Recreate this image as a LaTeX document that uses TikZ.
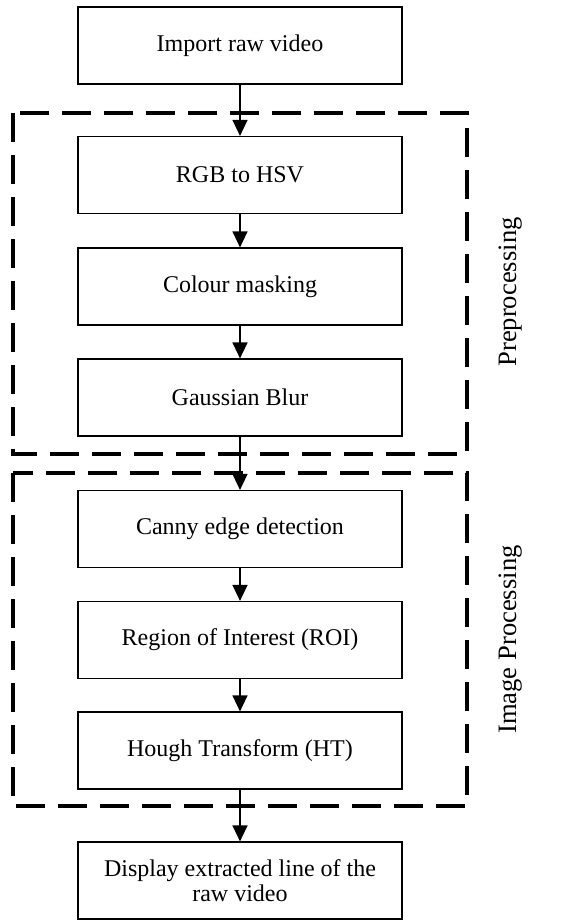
\documentclass[tikz,border=0pt]{standalone}
\usepackage{fontspec}
\setmainfont{Liberation Serif}
\usetikzlibrary{arrows.meta}

\begin{document}
\begin{tikzpicture}[x=0.5pt,y=-0.5pt,
  stage/.style={draw,line width=0.6pt,minimum width=162pt,minimum height=38.5pt,
    inner sep=0pt,align=center,font=\fontsize{12}{12.5}\selectfont},
  group/.style={line width=2pt,dash pattern=on 14.5pt off 6.5pt},
  flow/.style={line width=0.7pt,-{Triangle[width=7.5pt,length=8pt]}},
  tag/.style={rotate=90,font=\fontsize{13.3}{15}\selectfont}]
\useasboundingbox (0,0) rectangle (579,922);

\draw[group] (13,113) rectangle (467,454);
\draw[group] (13,473) rectangle (467,806);

\node[stage] (import) at (240,45.5) {Import raw video};
\node[stage] (hsv) at (240,175) {RGB to HSV};
\node[stage] (mask) at (240,286.5) {Colour masking};
\node[stage] (blur) at (240,397.5) {Gaussian Blur};
\node[stage] (canny) at (240,529) {Canny edge detection};
\node[stage] (roi) at (240,640) {Region of Interest (ROI)};
\node[stage] (hough) at (240,750.5) {Hough Transform (HT)};
\node[stage] (show) at (240,880.5) {Display extracted line of the\\raw video};

\draw[flow] (import) -- (hsv);
\draw[flow] (hsv) -- (mask);
\draw[flow] (mask) -- (blur);
\draw[flow] (blur) -- (canny);
\draw[flow] (canny) -- (roi);
\draw[flow] (roi) -- (hough);
\draw[flow] (hough) -- (show);

\node[tag] (pre) at (511,292) {Preprocessing};
\node[tag] (proc) at (511,639.5) {Image Processing};

\end{tikzpicture}
\end{document}
